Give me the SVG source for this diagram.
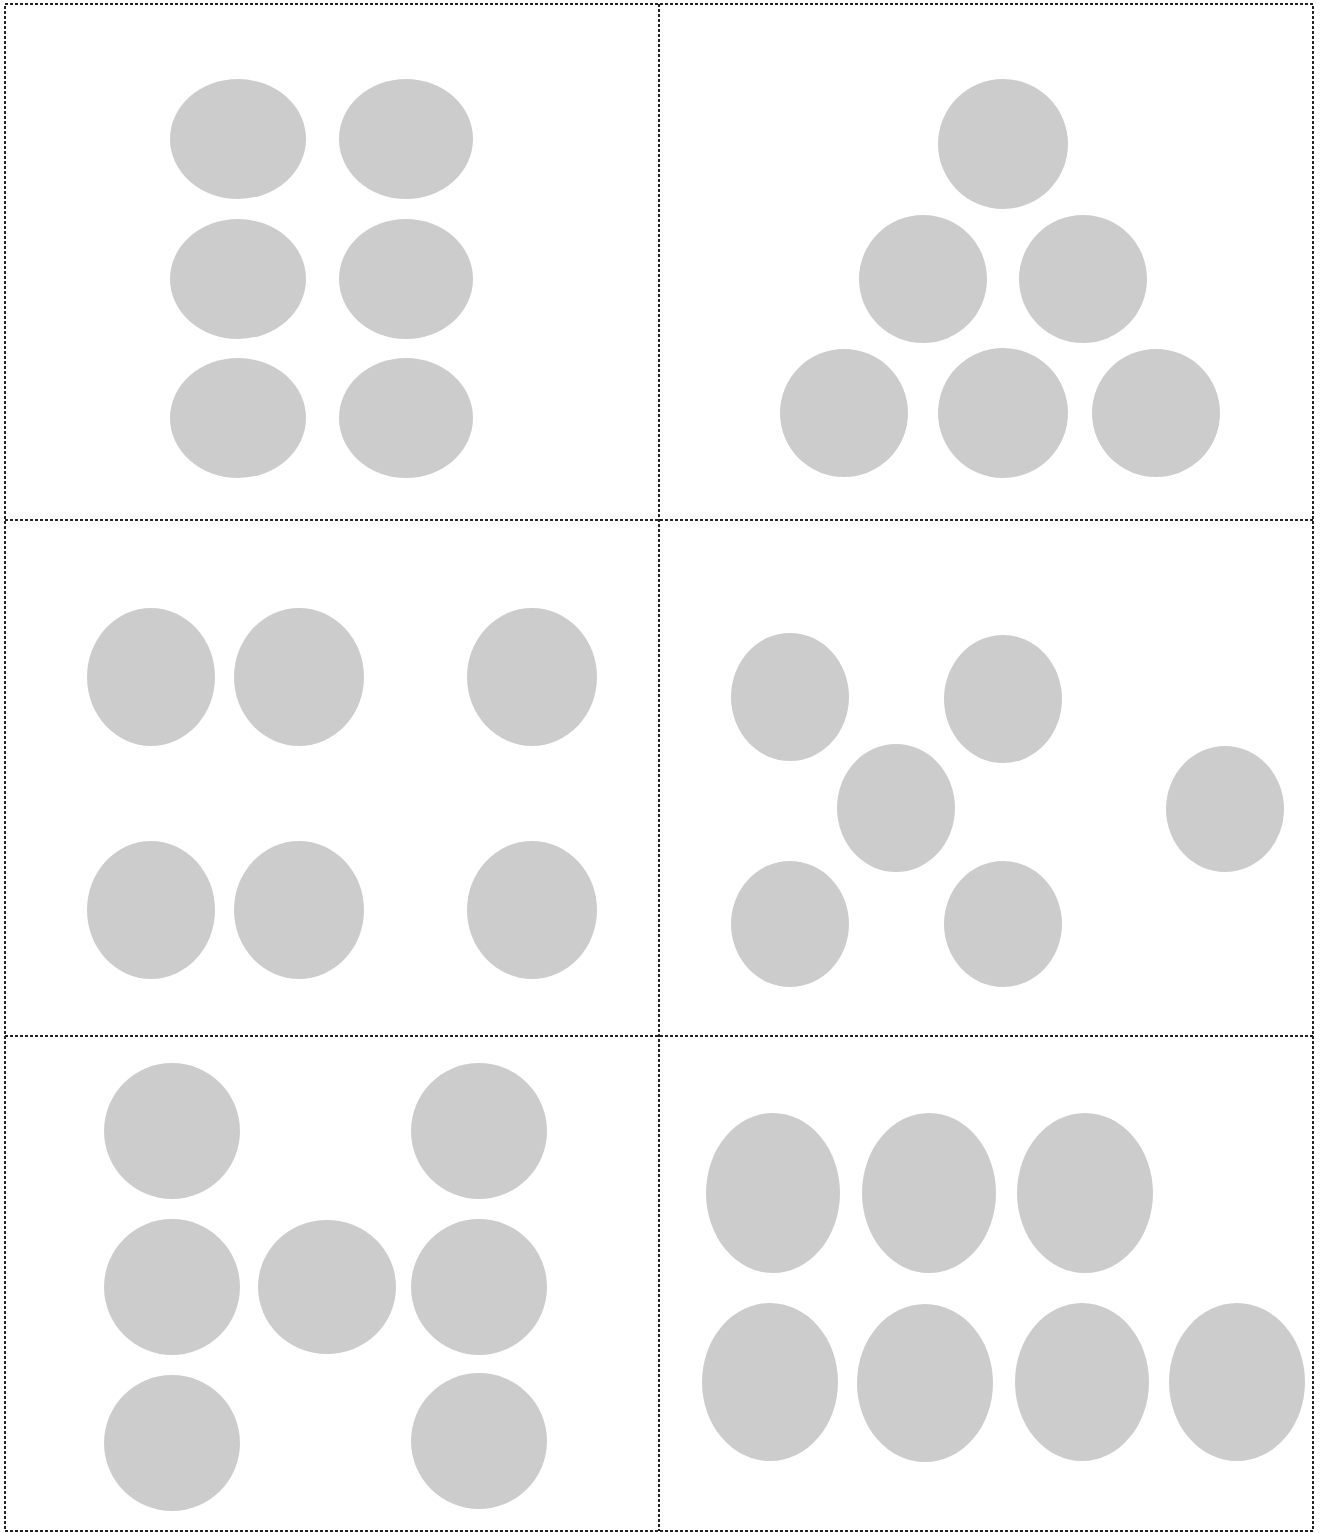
<svg xmlns="http://www.w3.org/2000/svg" width="1320" height="1533" viewBox="0 0 1320 1533">
<style>
.d{fill:#cccccc;stroke:none}
.g{stroke:#222;stroke-width:2;stroke-dasharray:3 2;fill:none}
</style>
<rect width="1320" height="1533" fill="#fff"/>
<g id="grid">
<rect class="g" x="5" y="4" width="1308" height="1527"/>
<line class="g" x1="659" y1="4" x2="659" y2="1531"/>
<line class="g" x1="5" y1="520" x2="1313" y2="520"/>
<line class="g" x1="5" y1="1036" x2="1313" y2="1036"/>
</g>
<g id="panel1">
<ellipse class="d" cx="238" cy="139" rx="68" ry="60"/>
<ellipse class="d" cx="406" cy="139" rx="67" ry="60"/>
<ellipse class="d" cx="238" cy="279" rx="68" ry="60"/>
<ellipse class="d" cx="406" cy="279" rx="67" ry="60"/>
<ellipse class="d" cx="238" cy="418" rx="68" ry="60"/>
<ellipse class="d" cx="406" cy="418" rx="67" ry="60"/>
</g>
<g id="panel2">
<circle class="d" cx="1003" cy="144" r="65"/>
<circle class="d" cx="923" cy="279" r="64"/>
<circle class="d" cx="1083" cy="279" r="64"/>
<circle class="d" cx="844" cy="413" r="64"/>
<circle class="d" cx="1003" cy="413" r="65"/>
<circle class="d" cx="1156" cy="413" r="64"/>
</g>
<g id="panel3">
<ellipse class="d" cx="151" cy="677" rx="64" ry="69"/>
<ellipse class="d" cx="299" cy="677" rx="65" ry="69"/>
<ellipse class="d" cx="532" cy="677" rx="65" ry="69"/>
<ellipse class="d" cx="151" cy="910" rx="64" ry="69"/>
<ellipse class="d" cx="299" cy="910" rx="65" ry="69"/>
<ellipse class="d" cx="532" cy="910" rx="65" ry="69"/>
</g>
<g id="panel4">
<ellipse class="d" cx="790" cy="697" rx="59" ry="64"/>
<ellipse class="d" cx="1003" cy="699" rx="59" ry="64"/>
<ellipse class="d" cx="896" cy="808" rx="59" ry="64"/>
<ellipse class="d" cx="1225" cy="809" rx="59" ry="63"/>
<ellipse class="d" cx="790" cy="924" rx="59" ry="63"/>
<ellipse class="d" cx="1003" cy="924" rx="59" ry="63"/>
</g>
<g id="panel5">
<circle class="d" cx="172" cy="1131" r="68"/>
<circle class="d" cx="479" cy="1131" r="68"/>
<circle class="d" cx="172" cy="1287" r="68"/>
<ellipse class="d" cx="327" cy="1287" rx="69" ry="67"/>
<circle class="d" cx="479" cy="1287" r="68"/>
<circle class="d" cx="172" cy="1443" r="68"/>
<circle class="d" cx="479" cy="1441" r="68"/>
</g>
<g id="panel6">
<ellipse class="d" cx="773" cy="1193" rx="67" ry="80"/>
<ellipse class="d" cx="929" cy="1193" rx="67" ry="80"/>
<ellipse class="d" cx="1085" cy="1193" rx="68" ry="80"/>
<ellipse class="d" cx="770" cy="1382" rx="68" ry="79"/>
<ellipse class="d" cx="925" cy="1383" rx="68" ry="79"/>
<ellipse class="d" cx="1082" cy="1382" rx="67" ry="79"/>
<ellipse class="d" cx="1237" cy="1382" rx="68" ry="79"/>
</g>
</svg>
